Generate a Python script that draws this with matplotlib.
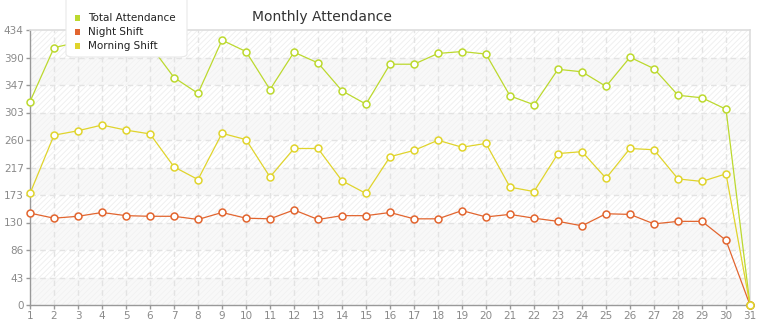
import numpy as np
import matplotlib.pyplot as plt
from matplotlib.patches import Rectangle, FancyBboxPatch

# ========= 数据 =========
days = list(range(1, 32))

total_attendance = [321, 406, 415, 430, 417, 410, 359, 334, 418, 400,
                    340, 399, 382, 338, 317, 380, 380, 397, 400, 396,
                    330, 316, 372, 368, 345, 391, 373, 331, 327, 309, 0]
night_shift = [145, 137, 140, 146, 141, 140, 140, 135, 146, 137,
               136, 150, 135, 141, 141, 146, 136, 136, 149, 139,
               143, 137, 132, 125, 144, 143, 128, 132, 132, 102, 0]
morning_shift = [176, 268, 275, 284, 276, 270, 218, 198, 271, 261,
                 202, 247, 247, 196, 176, 234, 244, 260, 249, 255,
                 186, 179, 239, 242, 200, 247, 245, 199, 195, 207, 0]

y_max = 434
y_ticks = [y_max * k / 10 for k in range(11)]
y_labels = [str(int(t)) for t in y_ticks]

series = [
    ("Total Attendance", total_attendance, "#bcd92e"),
    ("Night Shift", night_shift, "#e2652f"),
    ("Morning Shift", morning_shift, "#e0d42c"),
]

# ========= 画布 =========
fig = plt.figure(figsize=(7.65, 3.2), dpi=100)
ax = fig.add_axes([30 / 765, 15 / 320, 720 / 765, 275 / 320])
ax.set_xlim(1, 31)
ax.set_ylim(0, y_max)

# 背景：斜线 + 交替色带
plt.rcParams["hatch.linewidth"] = 0.6
ax.add_patch(Rectangle((1, 0), 30, y_max, facecolor="white", edgecolor="#eeeeee",
                       hatch="//////", linewidth=0, zorder=0))
for k in range(0, 10, 2):
    ax.add_patch(Rectangle((1, y_ticks[k]), 30, y_ticks[k + 1] - y_ticks[k],
                           facecolor="#f4f4f4", alpha=0.6, linewidth=0, zorder=0.5))

# 网格
for t in y_ticks[1:-1]:
    ax.axhline(t, color="#e3e3e3", lw=1.0, ls=(0, (4, 3)), zorder=1)
for d in days[1:-1]:
    ax.axvline(d, color="#e3e3e3", lw=1.0, ls=(0, (4, 3)), zorder=1)

# 折线
for i, (name, vals, col) in enumerate(series):
    ax.plot(days, vals, color=col, lw=0.9, marker="o", markersize=5,
            markerfacecolor="white", markeredgecolor=col, markeredgewidth=1.1,
            zorder=3 + i, clip_on=False)

# 轴样式
for s in ["top", "right"]:
    ax.spines[s].set_color("#dddddd")
    ax.spines[s].set_linewidth(1.2)
for s in ["left", "bottom"]:
    ax.spines[s].set_color("#999999")
    ax.spines[s].set_linewidth(1.0)

ax.set_xticks(days)
ax.set_xticklabels([str(d) for d in days])
ax.set_yticks(y_ticks)
ax.set_yticklabels(y_labels)
ax.tick_params(axis="both", colors="#999999", labelcolor="#8a8a8a",
               labelsize=7.5, length=3, width=1, direction="out", pad=1.5)

# 标题
fig.text(322 / 765, 1 - 17 / 320, "Monthly Attendance", ha="center", va="center",
         fontsize=10, color="#333333")

# 图例
leg_box = FancyBboxPatch((66 / 765, 1 - 57 / 320), 121 / 765, 62 / 320,
                         boxstyle="round,pad=0,rounding_size=0.01",
                         transform=fig.transFigure, facecolor="white",
                         edgecolor="#e8e8e8", linewidth=0.8, zorder=10)
fig.patches.append(leg_box)
for i, (name, vals, col) in enumerate(series):
    yy = 1 - (18 + 14 * i) / 320
    fig.patches.append(Rectangle((75 / 765, yy - 3 / 320), 5 / 765, 6 / 320,
                                 transform=fig.transFigure, facecolor=col,
                                 edgecolor="none", zorder=11))
    fig.text(88 / 765, yy, name, ha="left", va="center", fontsize=7.5,
             color="#222222", zorder=12)

fig.savefig("out.png", dpi=100)
